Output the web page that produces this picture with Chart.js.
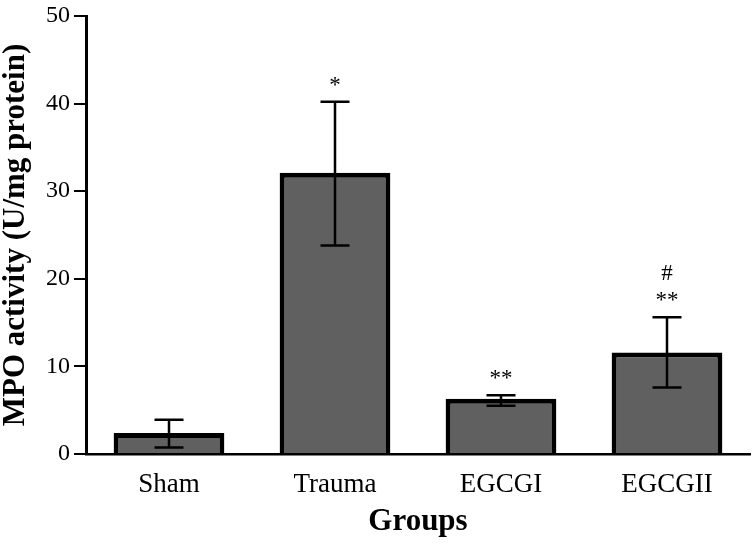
<!DOCTYPE html>
<html>
<head>
<meta charset="utf-8">
<script src="https://cdn.jsdelivr.net/npm/chart.js@4/dist/chart.umd.min.js"></script>
<style>
  html, body { margin: 0; padding: 0; background: #fff; }
  #wrap { width: 753px; height: 545px; }
</style>
</head>
<body>
<div id="wrap"><canvas id="mpoChart"></canvas></div>
<script>
// data
const groups = ['Sham', 'Trauma', 'EGCGI', 'EGCGII'];
const mpoMean = [2.4, 32.1, 6.3, 11.6];
const errLow = [0.75, 23.8, 5.5, 7.6];
const errHigh = [3.9, 40.2, 6.7, 15.6];
const marks = ['', '*', '**', '**'];
const marks2 = ['', '', '', '#'];
const yTicks = [0, 10, 20, 30, 40, 50];

const serif = '"Liberation Serif", "DejaVu Serif", serif';

// error bars + significance marks
const errorBars = {
  id: 'errorBars',
  afterDatasetsDraw(chart) {
    const ctx = chart.ctx;
    const meta = chart.getDatasetMeta(0);
    const y = chart.scales.y;
    ctx.save();
    ctx.strokeStyle = '#000';
    ctx.lineWidth = 2.5;
    meta.data.forEach((bar, i) => {
      const x = bar.x;
      const top = y.getPixelForValue(errHigh[i]);
      const bot = y.getPixelForValue(errLow[i]);
      ctx.beginPath();
      ctx.moveTo(x, top); ctx.lineTo(x, bot);
      ctx.moveTo(x - 14.5, top); ctx.lineTo(x + 14.5, top);
      ctx.moveTo(x - 14.5, bot); ctx.lineTo(x + 14.5, bot);
      ctx.stroke();

      ctx.fillStyle = '#000';
      ctx.textAlign = 'center';
      ctx.textBaseline = 'alphabetic';
      ctx.font = '23px ' + serif;
      if (marks[i]) ctx.fillText(marks[i], x, top - 10);
      if (marks2[i]) ctx.fillText(marks2[i], x, top - 37);
    });
    ctx.restore();
  }
};

new Chart(document.getElementById('mpoChart'), {
  type: 'bar',
  data: {
    labels: groups,
    datasets: [{
      data: mpoMean,
      backgroundColor: '#606060',
      borderColor: '#000',
      borderWidth: 5,
      barPercentage: 0.667,
      categoryPercentage: 1
    }]
  },
  options: {
    responsive: true,
    maintainAspectRatio: false,
    animation: false,
    layout: { padding: { top: 12, right: 3, left: 0, bottom: 0 } },
    plugins: {
      legend: { display: false },
      tooltip: { enabled: false }
    },
    scales: {
      x: {
        grid: { display: false },
        border: { display: true, color: '#000', width: 2.5 },
        ticks: { color: '#000', font: { family: serif, size: 27 }, padding: 7 },
        title: {
          display: true, text: 'Groups', color: '#000',
          font: { family: serif, size: 31, weight: 'bold' },
          padding: { top: 0, bottom: 4 }
        },
        afterFit: s => { s.height = 91; }
      },
      y: {
        min: 0, max: 50,
        afterBuildTicks: s => { s.ticks = yTicks.map(v => ({ value: v })); },
        grid: { drawOnChartArea: false, color: '#000', lineWidth: 2, tickLength: 12 },
        border: { display: true, color: '#000', width: 3 },
        ticks: { color: '#000', font: { family: serif, size: 24, lineHeight: 1 }, padding: 4 },
        title: {
          display: true, text: 'MPO activity (U/mg protein)', color: '#000',
          font: { family: serif, size: 31, weight: 'bold', lineHeight: 1 },
          padding: { top: 0, bottom: 0 }
        },
        afterFit: s => { s.width = 86; }
      }
    }
  },
  plugins: [errorBars]
});
</script>
</body>
</html>
